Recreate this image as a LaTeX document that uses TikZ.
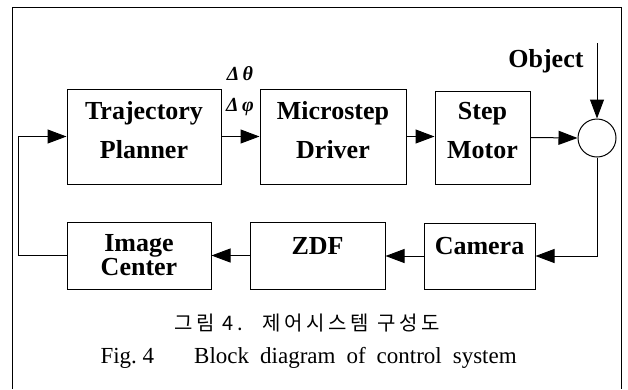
\documentclass[tikz,border=0pt]{standalone}
\usepackage{fontspec}
\setmainfont{Liberation Serif}
\newfontfamily\krfont{Noto Sans CJK KR}
\usetikzlibrary{arrows.meta,positioning,calc}

\tikzset{
  blockbox/.style={draw,line width=1pt,align=center,inner sep=0pt,
    font=\fontsize{26}{39}\selectfont\bfseries},
  arr/.style={line width=1pt,-{Triangle[length=19pt,width=14pt]}},
  wire/.style={line width=1pt}
}

\begin{document}
\begin{tikzpicture}[x=1pt,y=-1pt]
  \useasboundingbox (0,0) rectangle (628,389);
  \draw[wire] (12,389) -- (12,7) -- (621,7) -- (621,389);

  \node[blockbox,minimum width=154pt,minimum height=95pt,text depth=14pt] (tp) at (144,136.5) {Trajectory\\Planner};
  \node[blockbox,minimum width=146pt,minimum height=95pt,text depth=14pt] (md) at (333,136.5) {Microstep\\Driver};
  \node[blockbox,minimum width=95pt,minimum height=93pt,text depth=14pt] (sm) at (482.5,137.5) {Step\\Motor};
  \node[draw,circle,line width=1pt,minimum size=38pt,inner sep=0pt] (sum) at (597,138) {};

  \node[blockbox,minimum width=144pt,minimum height=67pt,font=\fontsize{26}{22}\selectfont\bfseries] (ic) at (139,255.5) {Image\\Center};
  \node[blockbox,minimum width=135pt,minimum height=67pt,text depth=20pt] (zdf) at (317.5,255.5) {ZDF};
  \node[blockbox,minimum width=111pt,minimum height=66pt,text depth=20pt] (cam) at (479.5,256) {Camera};

  \coordinate (obj) at (597,43);
  \node[anchor=base east,font=\fontsize{26}{30}\selectfont\bfseries] (objlbl) at (587,67) {Object};
  \node[font=\fontsize{20}{22}\selectfont\bfseries\itshape] (dth) at (240,74) {Δ\,θ};
  \node[font=\fontsize{20}{22}\selectfont\bfseries\itshape] (dph) at (240,107) {Δ\,φ};

  \draw[arr] (obj) -- (sum.north);
  \draw[arr] (tp.east) -- (md.west);
  \draw[arr] (md.east) -- (sm.west |- md.east);
  \draw[arr] (sm.east) -- (sum.west);
  \draw[arr] (sum.south) |- (cam.east);
  \draw[arr] (cam.west) -- (zdf.east |- cam.west);
  \draw[arr] (zdf.west) -- (ic.east);
  \draw[arr] (ic.west) -- ++(-48,0) |- (tp.west);

  \node[font=\fontsize{20}{22}\selectfont\krfont\addfontfeature{LetterSpace=18}] (krcap) at (307,323) {그림 4.\hspace{20pt}제어시스템 구성도};
  \node[font=\fontsize{23}{28}\selectfont,anchor=base west] (encap) at (97,363) {Fig.~4\hspace{40pt}{\spaceskip=11pt Block diagram of control system}};
\end{tikzpicture}
\end{document}
